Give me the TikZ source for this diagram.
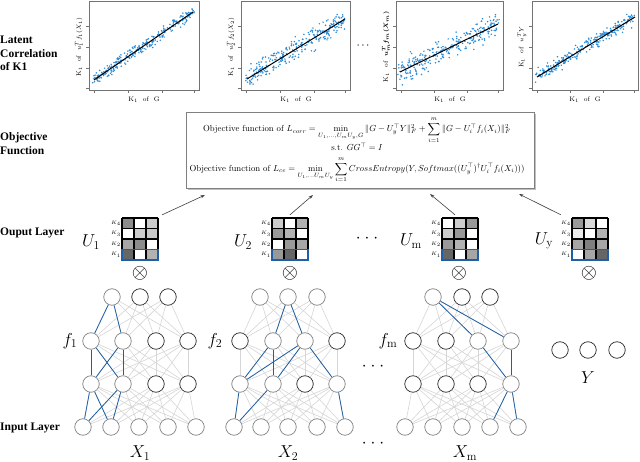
\documentclass[tikz,border=0pt]{standalone}
\usepackage{amsmath,amssymb,bm}
\usepackage{fontspec}
\newfontfamily\lblfont{Liberation Serif}
\usetikzlibrary{arrows.meta,calc}
\definecolor{dotblue}{RGB}{45,140,215}
\definecolor{edgeblue}{RGB}{30,95,165}
\tikzset{
  neuron/.style={circle, fill=white, line width=0.7pt, minimum size=16.5pt, inner sep=0pt},
  gedge/.style={draw=black!16, line width=0.6pt},
  bedge/.style={draw=edgeblue, line width=0.8pt},
  sidelabel/.style={font=\lblfont\bfseries\fontsize{11.5}{13.5}\selectfont, align=left, anchor=west, inner sep=0pt},
  plotframe/.style={draw=black!55, line width=0.7pt, anchor=north west, inner sep=0pt},
  axlab/.style={font=\fontsize{6.5}{7}\selectfont, inner sep=0pt},
  gridln/.style={line width=1.1pt, black},
  blueln/.style={line width=1.1pt, draw=edgeblue},
  matframe/.style={minimum width=36pt, minimum height=42pt, inner sep=0pt},
  klab/.style={font=\fontsize{5}{5}\selectfont, inner sep=0pt},
  biglab/.style={font=\fontsize{17}{17}\selectfont, inner sep=0pt},
  otim/.style={font=\fontsize{22}{22}\selectfont, inner sep=0pt},
  arr/.style={-{Stealth[length=4.5pt,width=3pt]}, draw=black!75, line width=0.6pt},
  dots/.style={font=\fontsize{18}{18}\selectfont, inner sep=0pt}
}
\newcommand\scat[6]{%
  \pgfmathsetseed{#6}%
  \foreach \i in {1,...,280}{%
    \pgfmathsetmacro\myt{rnd}%
    \pgfmathsetmacro\px{#1+\myt*(#3-#1)+2.5*rand}%
    \pgfmathsetmacro\py{#2+\myt*(#4-#2)+#5*(rand+rand+rand)/1.7}%
    \fill[dotblue] (\px,\py) circle[radius=0.85pt];
  }%
  \draw[line width=1pt, black] (#1,#2) -- (#3,#4);
}
\newcommand\plotaxes[4]{% x0 y0 x1 y1
  \foreach \yy in {26,47,68,88} \draw[black!55, line width=0.5pt] ({#1-3},\yy) -- (#1,\yy);
  \foreach \xx in {0.05,0.36,0.67,0.96} \draw[black!55, line width=0.5pt] ({#1+\xx*(#3-#1)},#4) -- ({#1+\xx*(#3-#1)},{#4+3});
}
\newcommand\umatrix[3]{%
  \foreach \v [count=\k from 0] in {#3}{%
    \pgfmathtruncatemacro\cc{mod(\k,3)}%
    \pgfmathtruncatemacro\rr{div(\k,3)}%
    \fill[black!\v] ({#2+\cc*12},{218+\rr*10.5}) rectangle ++(12,10.5);
  }%
  \foreach \j in {0,1,2,3} \draw[gridln] ({#2+\j*12},218) -- ({#2+\j*12},260);
  \foreach \j in {0,...,4} \draw[gridln] (#2,{218+\j*10.5}) -- ({#2+36},{218+\j*10.5});
  \draw[blueln] (#2,249.5) rectangle ({#2+36},260);
  \node[matframe] (#1) at ({#2+18},239) {};
  \foreach \lab [count=\k from 0] in {4,3,2,1} \node[klab] at ({#2-6},{223.25+\k*10.5}) {$K_{\lab}$};
}
\newcommand\mknet[5]{%
  \foreach \x/\s [count=\k] in {#2} \node[neuron, draw=\s] (#1t\k) at (\x,297) {};
  \foreach \x/\s [count=\k] in {#3} \node[neuron, draw=\s] (#1h\k) at (\x,341) {};
  \foreach \x/\s [count=\k] in {#4} \node[neuron, draw=\s] (#1g\k) at (\x,384) {};
  \foreach \x [count=\k] in {#5} \node[neuron, draw=black!50] (#1i\k) at (\x,427) {};
  \foreach \a in {1,2,3} \foreach \b in {1,...,4} \draw[gedge] (#1t\a) -- (#1h\b);
  \foreach \a in {1,...,4} \foreach \b in {1,...,4} \draw[gedge] (#1h\a) -- (#1g\b);
  \foreach \a in {1,...,4} \foreach \b in {1,...,5} \draw[gedge] (#1g\a) -- (#1i\b);
}
\begin{document}
\begin{tikzpicture}[x=1pt,y=-1pt]
\useasboundingbox (0,0) rectangle (640,462);
\fill[white] (0,0) rectangle (640,462);

% ---- side labels
\node[sidelabel] (lat) at (0,53.5) {Latent\\Correlation\\of K1};
\node[sidelabel] (objl) at (0,143.5) {Objective\\Function};
\node[sidelabel] (outl) at (0,233) {Ouput Layer};
\node[sidelabel] (inl) at (0,428) {Input Layer};

% ---- scatter plots
\node[plotframe, minimum width=110pt, minimum height=89pt] (p1) at (89,1) {};
\node[plotframe, minimum width=109pt, minimum height=89pt] (p2) at (241,1) {};
\node[plotframe, minimum width=107pt, minimum height=89pt] (p3) at (396,1) {};
\node[plotframe, minimum width=106pt, minimum height=89pt] (p4) at (532,1) {};
\begin{scope}\clip (89,1) rectangle (199,90); \scat{94}{80}{193}{12}{5}{11}\end{scope}
\begin{scope}\clip (241,1) rectangle (350,90); \scat{247}{79}{345}{19}{9}{22}\end{scope}
\begin{scope}\clip (396,1) rectangle (503,90); \scat{400}{72}{498}{24}{10}{33}\end{scope}
\begin{scope}\clip (532,1) rectangle (638,90); \scat{537}{77}{635}{17}{6}{44}\end{scope}
\plotaxes{89}{1}{199}{90}
\plotaxes{241}{1}{350}{90}
\plotaxes{396}{1}{503}{90}
\plotaxes{532}{1}{638}{90}
\node[axlab] (xl1) at (144,100) {K$_1$ \ of \ G};
\node[axlab] (xl2) at (296,100) {K$_1$ \ of \ G};
\node[axlab] (xl3) at (450,100) {K$_1$ \ of \ G};
\node[axlab] (xl4) at (585,100) {K$_1$ \ of \ G};
\node[axlab, rotate=90] (yl1) at (79,47) {K$_1$ \ of \ $u_1^{T}f_1(X_1)$};
\node[axlab, rotate=90] (yl2) at (231,47) {K$_1$ \ of \ $u_2^{T}f_2(X_2)$};
\node[axlab, rotate=90] (yl3) at (386,47) {K$_1$ \ of \ $\bm{u_m^{T}f_m(X_m)}$};
\node[axlab, rotate=90] (yl4) at (522,47) {K$_1$ \ of \ $u_y^{T}Y$};
\node[font=\fontsize{12}{12}\selectfont, inner sep=0pt] (pd) at (363,46) {$\cdot$\hspace{1.5pt}$\cdot$\hspace{1.5pt}$\cdot$};

% ---- objective box
\fill[black!25] (188,114) rectangle (536,190);
\node[draw=black!50, fill=white, line width=0.7pt, minimum width=348pt, minimum height=76pt, inner sep=0pt] (obj) at (360,150) {};
\node[inner sep=0pt] (objtxt) at (357,150) {\resizebox{335pt}{!}{\begin{tabular}{@{}c@{}}
Objective function of $L_{corr} = \displaystyle\min_{U_1,\dots,U_m U_y,G} \|G - U_y^{\top} Y\|_F^2 + \sum_{i=1}^{m} \|G - U_i^{\top} f_i(X_i)\|_F^2$\\[2.5pt]
s.t. $GG^{\top} = I$\\[4pt]
Objective function of $L_{ce} = \displaystyle\min_{U_1,\dots U_m U_y}\sum_{i=1}^{m} CrossEntropy(Y, Softmax((U_y^{\top})^{\dagger}U_i^{\top} f_i(X_i)))$
\end{tabular}}};

% ---- output layer matrices
\umatrix{U1}{122}{45,0,20,0,20,22,35,45,0,60,0,30}
\umatrix{U2}{272}{20,0,30,40,30,0,0,40,35,40,60,0}
\umatrix{Um}{442}{0,20,40,20,40,0,40,30,0,60,0,35}
\umatrix{Uy}{572}{40,15,0,8,0,30,35,50,35,0,35,60}
\node[biglab] (lu1) at (91,242) {$U_1$};
\node[biglab] (lu2) at (243,242) {$U_2$};
\node[biglab] (lum) at (411,241) {$U_{\mathrm{m}}$};
\node[biglab] (luy) at (544,241) {$U_{\mathrm{y}}$};
\node[dots] (md) at (367,239) {$\cdot$\hspace{4pt}$\cdot$\hspace{4pt}$\cdot$};
\node[otim] (o1) at (140,273) {$\otimes$};
\node[otim] (o2) at (290,273) {$\otimes$};
\node[otim] (o3) at (459,273) {$\otimes$};
\node[otim] (o4) at (589,273) {$\otimes$};

% ---- arrows to objective
\coordinate (e1) at (205,195);
\coordinate (e2) at (313,195);
\coordinate (e3) at (430,194);
\coordinate (e4) at (519,194);
\draw[arr] ($(U1.north east)+(4,-3)$) -- (e1);
\draw[arr] ($(U2.north)+(0,-3)$) -- (e2);
\draw[arr] ($(Um.north)+(-5,-3)$) -- (e3);
\draw[arr] ($(Uy.north west)+(-11,-3)$) -- (e4);

% ---- networks
\mknet{A}{112/black!50,140/black!85,168/black!85}{91/black!50,123/black!50,156/black!85,188/black!85}{91/black!50,123/black!50,156/black!85,188/black!85}{83,111,139,168,196}
\mknet{B}{260/black!50,288/black!50,317/black!50}{240/black!85,273/black!50,305/black!50,337/black!85}{240/black!50,273/black!50,305/black!85,337/black!50}{234,261,288,317,345}
\mknet{C}{433/black!50,462/black!85,490/black!85}{413/black!85,446/black!85,478/black!50,511/black!50}{413/black!85,446/black!85,478/black!85,511/black!50}{405,433,462,490,518}
% blue paths
\foreach \a/\b in {At1/Ah1,At1/Ah2,Ah1/Ag1,Ah1/Ag2,Ah2/Ag1,Ah2/Ag2,Ag1/Ai1,Ag1/Ai2,Ag2/Ai1,Ag2/Ai2,
  Bt2/Bh2,Bt2/Bh3,Bh2/Bg1,Bh3/Bg1,Bh2/Bg2,Bh3/Bg2,Bh3/Bg4,Bg1/Bi1,Bg2/Bi1,Bg4/Bi5,
  Ct1/Ch3,Ct1/Ch4,Ch3/Cg4,Ch4/Cg4,Cg4/Ci4,Cg4/Ci5}
  \draw[bedge] (\a) -- (\b);
\foreach \x [count=\k] in {560,588,617} \node[neuron, draw=black!85] (Y\k) at (\x,350) {};

\node[biglab] (lf1) at (70,341) {$f_1$};
\node[biglab] (lf2) at (215,341) {$f_2$};
\node[biglab] (lfm) at (388,341) {$f_{\mathrm{m}}$};
\node[biglab] (lx1) at (140,453) {$X_1$};
\node[biglab] (lx2) at (288,453) {$X_2$};
\node[biglab] (lxm) at (465,453) {$X_{\mathrm{m}}$};
\node[biglab] (ly) at (588,378) {$Y$};
\node[dots] (nd1) at (373,367) {$\cdot$\hspace{4pt}$\cdot$\hspace{4pt}$\cdot$};
\node[dots] (nd2) at (373,444) {$\cdot$\hspace{4pt}$\cdot$\hspace{4pt}$\cdot$};
\end{tikzpicture}
\end{document}
